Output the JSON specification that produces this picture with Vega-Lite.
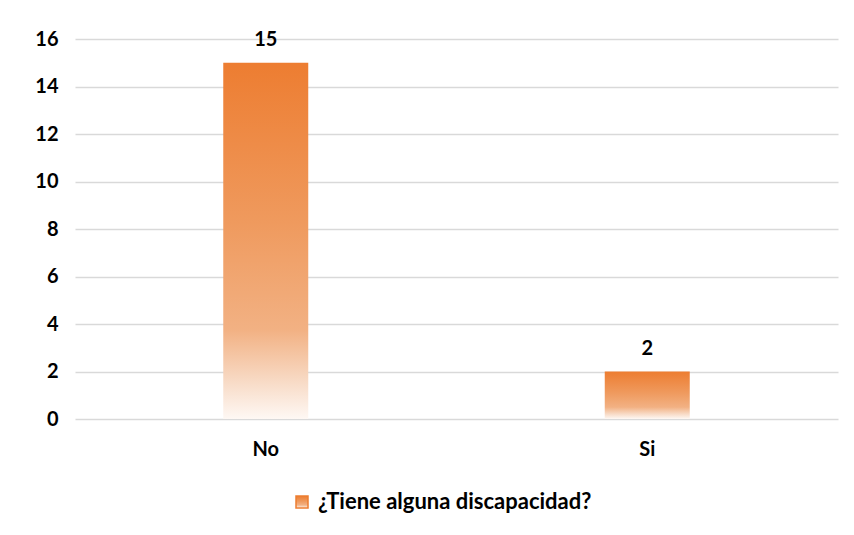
{
  "$schema": "https://vega.github.io/schema/vega-lite/v6.json",
  "width": 763,
  "height": 380,
  "autosize": "none",
  "padding": {"left": 75, "top": 39, "right": 16, "bottom": 116},
  "background": "white",
  "config": {
    "view": {"stroke": null},
    "font": "Lato"
  },
  "data": {
    "values": [
      {"respuesta": "No", "valor": 15, "serie": "¿Tiene alguna discapacidad?"},
      {"respuesta": "Si", "valor": 2, "serie": "¿Tiene alguna discapacidad?"}
    ]
  },
  "layer": [
    {
      "mark": {
        "type": "bar",
        "size": 85,
        "strokeWidth": 0,
        "fill": {
          "gradient": "linear",
          "x1": 0, "y1": 0, "x2": 0, "y2": 1,
          "stops": [
            {"offset": 0, "color": "#ED7D31"},
            {"offset": 0.45, "color": "#EF9A5E"},
            {"offset": 0.75, "color": "#F2B183"},
            {"offset": 0.9, "color": "#F8DCC8"},
            {"offset": 1, "color": "#FEF8F4"}
          ]
        }
      },
      "encoding": {
        "x": {
          "field": "respuesta",
          "type": "nominal",
          "scale": {"paddingInner": 0, "paddingOuter": 0},
          "axis": {
            "title": null,
            "labelAngle": 0,
            "labelFont": "Lato",
            "labelFontSize": 20,
            "labelFontWeight": "bold",
            "labelColor": "#000000",
            "labelPadding": 20,
            "ticks": false,
            "domain": false,
            "grid": false
          }
        },
        "y": {
          "field": "valor",
          "type": "quantitative",
          "scale": {"domain": [0, 16]},
          "axis": {
            "title": null,
            "values": [0, 2, 4, 6, 8, 10, 12, 14, 16],
            "labelFont": "Lato",
            "labelFontSize": 20,
            "labelFontWeight": "bold",
            "labelColor": "#000000",
            "labelPadding": 17,
            "ticks": false,
            "domain": false,
            "gridColor": "#D9D9D9",
            "gridWidth": 1.3
          }
        },
        "stroke": {
          "field": "serie",
          "type": "nominal",
          "scale": {"range": ["#ED7D31"]},
          "legend": {
            "title": null,
            "orient": "none",
            "legendX": 216,
            "legendY": 452,
            "direction": "horizontal",
            "symbolType": "square",
            "symbolSize": 144,
            "labelFont": "Lato",
            "labelFontSize": 22,
            "labelFontWeight": "bold",
            "labelColor": "#000000",
            "labelLimit": 400,
            "labelOffset": 5,
            "encode": {
              "symbols": {
                "update": {
                  "fill": {
                    "value": {
                      "gradient": "linear",
                      "x1": 0, "y1": 0, "x2": 0, "y2": 1,
                      "stops": [
                        {"offset": 0, "color": "#ED7D31"},
                        {"offset": 0.6, "color": "#F0A06E"},
                        {"offset": 1, "color": "#FEF8F4"}
                      ]
                    }
                  },
                  "strokeWidth": {"value": 0},
                  "opacity": {"value": 1}
                }
              }
            }
          }
        }
      }
    },
    {
      "mark": {"type": "text", "baseline": "middle", "dy": -23, "font": "Lato", "fontSize": 20, "fontWeight": "bold", "color": "#000000"},
      "encoding": {
        "x": {"field": "respuesta", "type": "nominal"},
        "y": {"field": "valor", "type": "quantitative"},
        "text": {"field": "valor", "type": "quantitative"}
      }
    }
  ]
}
